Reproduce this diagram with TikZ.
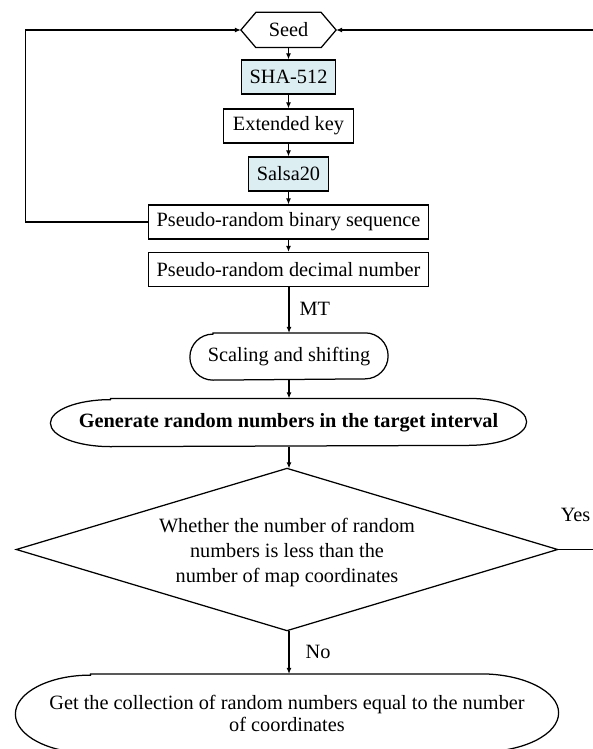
\documentclass[tikz,border=0pt]{standalone}
\usepackage{fontspec}
\setmainfont{Liberation Serif}
\usetikzlibrary{arrows.meta,calc}
\definecolor{boxblue}{RGB}{221,238,243}
\begin{document}
\begin{tikzpicture}[x=1pt,y=-1pt,
  font=\fontsize{20.3}{23}\selectfont,
  line width=1.25pt,
  arr/.style={line width=1.1pt, -{Latex[length=6pt,width=5pt]}},
  plainbox/.style={draw, rectangle, minimum height=34pt, inner sep=0pt},
  bluebox/.style={plainbox, fill=boxblue},
  lbl/.style={inner sep=0pt, anchor=west}
]
\useasboundingbox (0,0) rectangle (592,749);

% Seed hexagon
\node[minimum width=94pt, minimum height=34pt, inner sep=0pt] (seed) at (288.5,30) {Seed};
\draw ([xshift=15pt]seed.north west) -- ([xshift=-15pt]seed.north east) -- (seed.east)
  -- ([xshift=-15pt]seed.south east) -- ([xshift=15pt]seed.south west) -- (seed.west) -- cycle;

\node[bluebox, minimum width=94pt] (sha) at (288.5,77) {SHA-512};
\node[plainbox, minimum width=130pt] (ext) at (288.5,126) {Extended key};
\node[bluebox, minimum width=80pt] (salsa) at (288.5,174) {Salsa20};
\node[plainbox, minimum width=280pt] (prbs) at (288.5,222) {Pseudo-random binary sequence};
\node[plainbox, minimum width=280pt] (prdn) at (288.5,269.5) {Pseudo-random decimal number};

% Scaling and shifting (stadium)
\node[minimum width=197pt, minimum height=46pt, inner sep=0pt] (scale) at (289,356.5) {Scaling and shifting};
\draw ([xshift=23pt]scale.north west) -- ([xshift=-23pt]scale.north east)
  arc[start angle=90, end angle=-90, x radius=23pt, y radius=23pt]
  -- ([xshift=23pt]scale.south west)
  arc[start angle=270, end angle=90, x radius=23pt, y radius=23pt] -- cycle;

% Generate (elongated ellipse)
\node[minimum width=475pt, minimum height=47pt, inner sep=0pt, font=\fontsize{20.3}{23}\selectfont\bfseries] (gen) at (288.5,422.5) {Generate random numbers in the target interval};
\draw ([xshift=60pt]gen.north west) -- ([xshift=-58pt]gen.north east)
  arc[start angle=90, end angle=-90, x radius=58pt, y radius=23.5pt]
  -- ([xshift=60pt]gen.south west)
  arc[start angle=270, end angle=90, x radius=60pt, y radius=23.5pt] -- cycle;

% Decision diamond
\node[minimum width=540pt, minimum height=161pt, inner sep=0pt] (dec) at (287,549.5) {};
\draw (dec.north) -- (dec.east) -- (dec.south) -- (dec.west) -- cycle;
\node[inner sep=0pt, align=center, font=\fontsize{20.3}{25}\selectfont] (dectext) at (287,553)
  {Whether the number of random\\numbers is less than the\\number of map coordinates};

% Bottom ellipse
\node[minimum width=542pt, minimum height=78pt, inner sep=0pt, align=center,
  font=\fontsize{20.3}{22.5}\selectfont] (out) at (287,713.5)
  {Get the collection of random numbers equal to the number\\of coordinates};
\draw ([xshift=75pt]out.north west) -- ([xshift=-78pt]out.north east)
  arc[start angle=90, end angle=-90, x radius=78pt, y radius=39pt]
  -- ([xshift=75pt]out.south west)
  arc[start angle=270, end angle=90, x radius=75pt, y radius=39pt] -- cycle;

% Connectors
\draw[arr] (seed) -- (sha);
\draw[arr] (sha) -- (ext);
\draw[arr] (ext) -- (salsa);
\draw[arr] (salsa) -- (prbs);
\draw[arr] (prbs) -- (prdn);
\draw[arr] (prdn.south -| scale.north) -- (scale.north);
\draw[arr] (scale.south) -- (scale.south |- gen.north);
\draw[arr] (scale.south |- gen.south) -- (scale.south |- dec.north);
\draw[arr] (scale.south |- dec.south) -- (scale.south |- out.north);

\coordinate (lx) at (25.7,222);
\draw[arr] (prbs.west) -- (lx) |- (seed.west);
\coordinate (rx) at (596,549.5);
\draw[arr] (dec.east) -- (rx) |- (seed.east);

% Labels
\node[inner sep=0pt, anchor=east] (yes) at (591,515) {Yes};
\node[lbl] (mt) at (299,309) {MT};
\node[lbl] (no) at (305,652) {No};
\end{tikzpicture}
\end{document}
